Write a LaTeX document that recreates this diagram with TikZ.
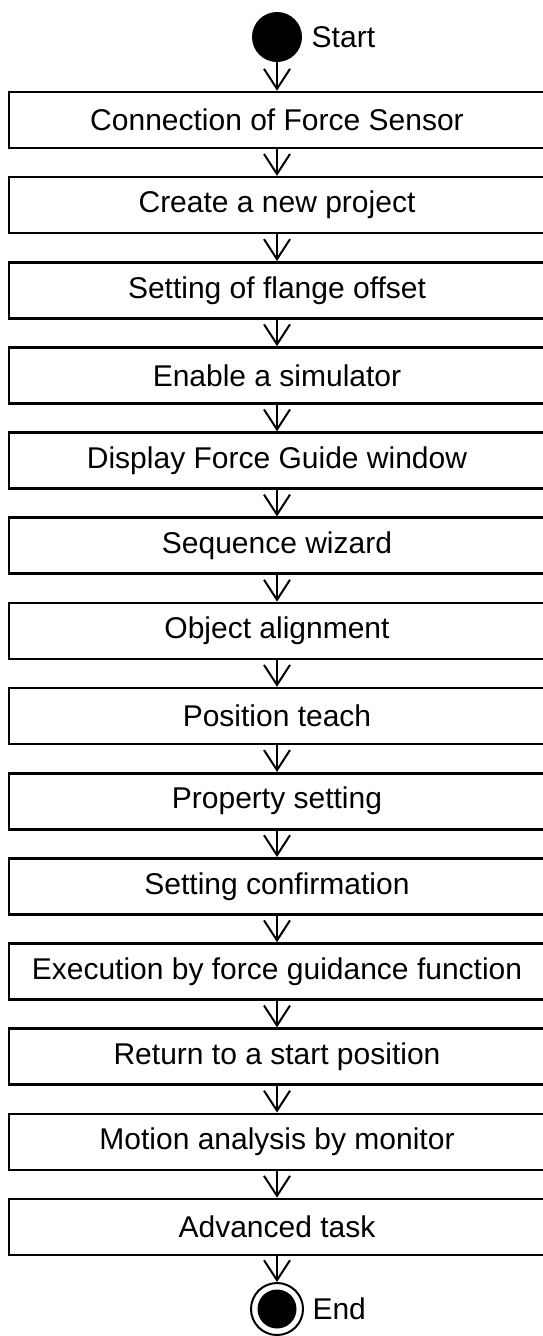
\documentclass[tikz,border=0pt]{standalone}
\usepackage{fontspec}
\setmainfont{Liberation Sans}
\usetikzlibrary{arrows.meta}

\begin{document}
\begin{tikzpicture}[x=1pt,y=-1pt,
  every node/.style={font=\fontsize{30}{36}\selectfont},
  stepbox/.style={draw,line width=2.6pt,minimum width=536pt,minimum height=56pt,inner sep=0pt},
  flow/.style={line width=2pt,-{Straight Barb[length=20pt,width=26pt,line width=2pt]}}]
  \useasboundingbox (0,0) rectangle (543,1336);
  \node[circle,fill,minimum size=50pt,inner sep=0pt] (start) at (277,37) {};
  \node[anchor=west,xshift=6pt] (startlbl) at (start.east) {Start};
  \foreach \t [count=\i] in {Connection of Force Sensor,Create a new project,
      Setting of flange offset,Enable a simulator,Display Force Guide window,
      Sequence wizard,Object alignment,Position teach,Property setting,
      Setting confirmation,Execution by force guidance function,
      Return to a start position,Motion analysis by monitor,Advanced task}{
    \node[stepbox] (box\i) at (277,{120+(\i-1)*85.15}) {\t};
  }
  \node[circle,draw,line width=2pt,minimum size=52pt,inner sep=0pt] (end) at (277,1309) {};
  \fill (end.center) circle[radius=19.5];
  \node[anchor=west,xshift=5pt] (endlbl) at (end.east) {End};
  \draw[flow] (start) -- (box1);
  \foreach \i in {1,...,13}{
    \pgfmathtruncatemacro\j{\i+1}
    \draw[flow] (box\i) -- (box\j);
  }
  \draw[flow] (box14) -- (end);
\end{tikzpicture}
\end{document}
